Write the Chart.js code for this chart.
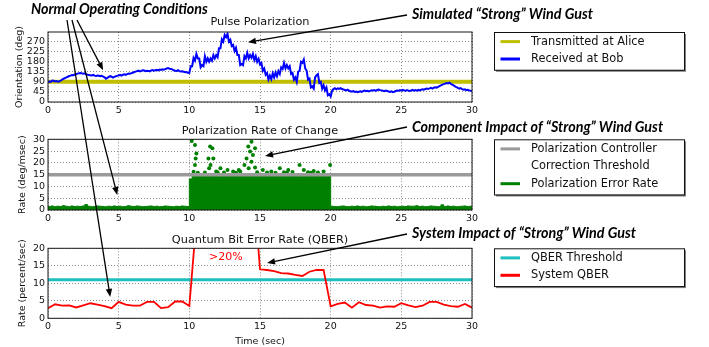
<!DOCTYPE html>
<html>
<head>
<meta charset="utf-8">
<script src="https://cdn.jsdelivr.net/npm/chart.js@4.4.0/dist/chart.umd.min.js"></script>
<style>
  body { margin: 0; background: #fff; }
  #wrap { position: relative; width: 709px; height: 347px; }
  #wrap canvas { position: absolute; left: 0; top: 0; }
</style>
</head>
<body>
<div id="wrap">
  <canvas id="plot_polarization" width="709" height="347"></canvas>
  <canvas id="plot_rate" width="709" height="347"></canvas>
  <canvas id="plot_qber" width="709" height="347"></canvas>
</div>
<script>
// ---- data ----
const timeTicks = [0, 5, 10, 15, 20, 25, 30];
const orientationTicks = [0, 45, 90, 135, 180, 225, 270];
const rateTicks = [0, 5, 10, 15, 20, 25, 30];
const qberTicks = [0, 5, 10, 15, 20];

// Bob's received orientation, one sample every 0.1 s from 0 to 30 s
const bobStep = 0.1;
const bobOrientation = [
  88, 92, 90, 96, 95, 92, 94, 91, 93, 96,
  100, 104, 107, 110, 113, 116, 118, 121, 120, 123,
  125, 127, 129, 130, 128, 126, 128, 124, 122, 121,
  120, 119, 121, 118, 116, 118, 117, 115, 117, 114,
  110, 104, 108, 112, 116, 113, 109, 112, 115, 117,
  119, 121, 118, 122, 124, 121, 125, 127, 126, 129,
  131, 134, 136, 138, 140, 137, 139, 142, 141, 138,
  140, 139, 137, 141, 143, 140, 142, 144, 141, 145,
  143, 146, 144, 147, 150, 152, 149, 148, 146, 142,
  140, 139, 142, 138, 136, 137, 135, 133, 134, 131,
  130,
  160, 160, 197, 185, 215, 195, 195, 155, 165, 160,
  205, 180, 195, 180, 195, 185, 210, 195, 210, 200,
  240, 240, 280, 270, 300, 290, 305, 270, 278, 250,
  255, 228, 242, 210, 210, 165, 170, 165, 205, 195,
  220, 195, 210, 198, 215, 188, 205, 180, 193, 168,
  175, 140, 150, 122, 130, 100, 118, 102, 128, 110,
  132, 115, 138, 125, 155, 148, 175, 150, 165, 150,
  160, 125, 130, 100, 110, 90, 135, 140, 180, 175,
  190, 150, 140, 100, 105, 65, 70, 60, 110, 120,
  125, 85, 90, 60, 75, 52, 65, 30, 35, 25,
  50, 58, 62, 57, 61, 59, 62, 58, 56,
  54, 52, 55, 50, 48, 46, 49, 45, 47, 44,
  46, 48, 45, 49, 51, 48, 50, 47, 50, 52,
  51, 53, 50, 54, 56, 53, 52, 50, 48, 51,
  49, 47, 45, 48, 44, 46, 49, 51, 50, 53,
  51, 54, 52, 50, 53, 51, 49, 52, 54, 51,
  53, 51, 54, 52, 55, 57, 55, 58, 60, 58,
  61, 63, 60, 64, 66, 64, 68, 71, 74, 78,
  80, 82, 85, 83, 86, 81, 78, 74, 70, 66,
  63, 60, 62, 58, 55, 57, 53, 55, 52, 50,
  49
];
const aliceTime = [0, 30];
const aliceOrientation = [90, 90];

// polarization error rate, one value every 0.2 s
const rateStep = 0.2;
const errorRate = [
  1.5, 1.7, 1.4, 1.6, 1.5, 1.8, 1.6, 1.4, 1.7, 1.5,
  1.6, 1.5, 1.7, 2.3, 1.6, 1.4, 1.5, 1.7, 1.6, 1.5,
  1.4, 1.6, 1.5, 1.7, 1.5, 1.6, 1.4, 1.5, 1.8, 1.6,
  1.5, 1.7, 1.6, 1.4, 1.5, 1.6, 1.7, 1.5, 1.6, 1.4,
  1.5, 1.7, 1.6, 1.5, 1.4, 1.6, 1.5, 1.7, 1.6, 1.5,
  13.2, 14.6, 14.4, 14.7, 14.3, 14.5, 14.8, 14.2, 14.6, 14.4,
  14.7, 14.3, 14.5, 14.6, 14.2, 14.8, 14.4, 14.5, 14.3, 14.7,
  14.4, 14.6, 14.2, 14.5, 14.8, 14.3, 14.6, 14.4, 14.7, 14.2,
  14.5, 14.6, 14.3, 14.7, 14.4, 14.5, 14.2, 14.6, 14.8, 14.3,
  14.5, 14.4, 14.7, 14.2, 14.6, 14.5, 14.3, 14.7, 14.4, 14.6,
  1.6, 1.5, 1.4, 1.6, 1.7, 1.5, 1.4, 1.6, 1.5, 1.7,
  1.5, 1.6, 1.4, 1.5, 1.7, 1.6, 1.5, 1.4, 1.6, 1.5,
  1.7, 1.5, 1.6, 1.4, 1.5, 1.6, 1.5, 1.7, 1.6, 1.6,
  1.8, 1.5, 1.6, 1.4, 1.5, 1.7, 1.6, 1.5, 1.4, 2.2,
  1.5, 1.7, 1.5, 1.6, 1.4, 1.5, 1.6, 1.7, 1.5, 1.6,
  1.5
];
const spikeTime = [10.17, 10.4, 10.5, 10.45, 10.4, 10.3, 10.6, 11.47, 11.63, 11.35, 11.7, 11.5, 11.4,
  11.9, 12.2, 12.7, 12.45, 13.1, 13.5, 13.3, 13.6, 13.9, 14.05, 14.17, 14.3, 14.4, 14.5, 14.4,
  14.65, 14.2, 14.65, 14.8, 15.2, 15.5, 15.8, 16.1, 16.4, 16.7, 17.0, 17.3, 17.8, 18.1, 18.4,
  18.8, 19.1, 19.5, 19.96, 11.1, 12.0, 16.9, 18.6];
const spikeRate = [29.3, 27.6, 24.0, 21.9, 19.1, 16.2, 15.8, 26.9, 26.2, 21.9, 21.9, 19.1, 17.7,
  16.3, 17.7, 17.0, 15.9, 16.3, 17.0, 15.8, 16.3, 19.1, 21.9, 26.9, 24.8, 29.0, 23.3, 20.5,
  26.2, 17.7, 18.0, 16.0, 17.0, 15.9, 16.3, 15.8, 17.7, 16.0, 17.0, 16.1, 19.1, 17.0, 16.0,
  16.5, 15.9, 16.3, 19.1, 15.9, 16.0, 15.8, 15.8];
const controllerTime = [0, 30];
const controllerThreshold = [15, 15];

const qberTime = [0, 0.5, 1, 1.5, 2, 2.5, 3, 3.5, 4, 4.5, 5, 5.5, 6, 6.5, 7, 7.5, 8, 8.5, 9, 9.5,
  10, 10.5, 11, 11.5, 12, 12.5, 13, 13.5, 14, 14.5,
  15, 15.5, 16, 16.5, 17, 17.5, 18, 18.5, 19, 19.5,
  20, 20.5, 21, 21.5, 22, 22.5, 23, 23.5, 24, 24.5, 25, 25.5, 26, 26.5, 27, 27.5, 28, 28.5, 29, 29.5, 30];
const qberValue = [2.9, 4.0, 3.6, 3.7, 3.1, 3.7, 4.3, 3.9, 3.5, 2.9, 4.7, 3.9, 3.6, 3.6, 4.7, 4.7, 2.9, 3.2, 4.8, 4.8,
  3.5, 28, 32, 35, 38, 40, 42, 40, 41, 40,
  14.0, 13.8, 13.5, 12.9, 12.8, 12.4, 12.1, 13.3, 13.8, 13.8,
  3.4, 4.1, 4.5, 3.05, 4.6, 3.8, 3.6, 3.05, 3.4, 3.3, 4.3, 3.7, 3.2, 3.6, 4.7, 4.7, 3.9, 3.5, 3.3, 4.1, 3.05];
const qberThresholdTime = [0, 30];
const qberThreshold = [11, 11];

// ---- annotations (text in page pixels, arrow tips in data units) ----
const notes = [
  { text: 'Normal Operating Conditions', x: 31, y: 9 },
  { text: 'Simulated \u201cStrong\u201d Wind Gust', x: 412, y: 14 },
  { text: 'Component Impact of \u201cStrong\u201d Wind Gust', x: 412, y: 127 },
  { text: 'System Impact of \u201cStrong\u201d Wind Gust', x: 412, y: 233 }
];
const arrows = [
  { from: [77, 20], plot: 0, at: [3.9, 142] },
  { from: [72, 20], plot: 1, at: [4.9, 6.4] },
  { from: [67, 20], plot: 2, at: [4.4, 6.1] },
  { from: [407, 15], plot: 0, at: [14.15, 267] },
  { from: [407, 127], plot: 1, at: [15.36, 22.9] },
  { from: [407, 234], plot: 2, at: [15.5, 15.8] }
];

function createData(xValues, yValues) {
  return xValues.map((x, i) => ({ x: x, y: yValues[i] }));
}
function sampled(values, step) {
  return values.map((v, i) => ({ x: +(i * step).toFixed(2), y: v }));
}

Chart.defaults.font.family = '"DejaVu Sans", sans-serif';
Chart.defaults.color = '#111';

const gridColor = '#8a8a8a';

function xAxis(height, title) {
  return {
    type: 'linear', min: 0, max: 30,
    afterBuildTicks: s => { s.ticks = timeTicks.map(v => ({ value: v })); },
    ticks: { padding: 3, autoSkip: false, maxRotation: 0, font: { size: 9.5 } },
    grid: { color: gridColor, drawTicks: false },
    border: { display: false, dash: [1, 2] },
    title: { display: !!title, text: title, font: { size: 9.5 }, padding: 0 },
    afterFit: s => { s.height = height; }
  };
}
function yAxis(max, ticks, title, titlePad) {
  return {
    min: 0, max: max,
    afterBuildTicks: s => { s.ticks = ticks.map(v => ({ value: v })); },
    ticks: { padding: 3, autoSkip: false, font: { size: 9.5 } },
    grid: { color: gridColor, drawTicks: false },
    border: { display: false, dash: [1, 2] },
    title: { display: true, text: title, font: { size: 9.5 }, padding: { top: titlePad, bottom: 0 } },
    afterFit: s => { s.width = 48; }
  };
}
function plotTitle(text, padTop, padBottom) {
  return { display: true, text: text, fullSize: false, color: '#111',
    font: { size: 11.3, weight: 'normal' }, padding: { top: padTop, bottom: padBottom } };
}

const frame = {
  id: 'frame',
  afterDatasetsDraw(chart) {
    const { ctx, chartArea: a } = chart;
    ctx.save();
    ctx.strokeStyle = '#1a1a1a';
    ctx.lineWidth = 1;
    ctx.strokeRect(a.left, a.top, a.right - a.left, a.bottom - a.top);
    ctx.restore();
  }
};

const boxLegend = {
  id: 'boxLegend',
  afterDraw(chart) {
    const { ctx, chartArea: a } = chart;
    const rows = [];
    chart.data.datasets.forEach(ds => {
      if (!ds.label) return;
      ds.label.split('\n').forEach((t, i) => rows.push({ t: t, color: i === 0 ? ds.borderColor : null }));
    });
    const left = a.right + 22, top = a.top, w = 190, h = rows.length * 17.4 + 3;
    ctx.save();
    ctx.fillStyle = '#808080';
    ctx.fillRect(left + 2, top + 2, w, h);
    ctx.fillStyle = '#fff';
    ctx.fillRect(left, top, w, h);
    ctx.strokeStyle = '#111';
    ctx.lineWidth = 1;
    ctx.strokeRect(left + 0.5, top + 0.5, w, h);
    ctx.font = '11.4px "DejaVu Sans", sans-serif';
    ctx.textBaseline = 'middle';
    rows.forEach((r, i) => {
      const y = top + 9.6 + i * 17.4;
      if (r.color) {
        ctx.strokeStyle = r.color;
        ctx.lineWidth = 3;
        ctx.beginPath();
        ctx.moveTo(left + 6.5, y);
        ctx.lineTo(left + 26, y);
        ctx.stroke();
      }
      ctx.fillStyle = '#111';
      ctx.fillText(r.t, left + 37, y);
    });
    ctx.restore();
  }
};

const charts = [];

function drawArrow(ctx, x0, y0, x1, y1) {
  const ang = Math.atan2(y1 - y0, x1 - x0), L = 8, W = 3.2;
  const bx = x1 - L * Math.cos(ang), by = y1 - L * Math.sin(ang);
  ctx.beginPath();
  ctx.moveTo(x0, y0);
  ctx.lineTo(bx, by);
  ctx.stroke();
  ctx.beginPath();
  ctx.moveTo(x1, y1);
  ctx.lineTo(bx + W * Math.sin(ang), by - W * Math.cos(ang));
  ctx.lineTo(bx - W * Math.sin(ang), by + W * Math.cos(ang));
  ctx.closePath();
  ctx.fill();
}

const notesOverlay = {
  id: 'notesOverlay',
  afterDraw(chart) {
    const ctx = chart.ctx;
    const plots = [charts[0], charts[1], chart];
    ctx.save();
    // >20% label inside the QBER panel
    ctx.fillStyle = '#ff0000';
    ctx.font = '11px "DejaVu Sans", sans-serif';
    ctx.textBaseline = 'middle';
    ctx.fillText('>20%', chart.scales.x.getPixelForValue(11.4), chart.scales.y.getPixelForValue(17.5));

    ctx.fillStyle = '#000';
    ctx.font = 'italic bold 14.3px Lato, "Open Sans", sans-serif';
    notes.forEach(n => ctx.fillText(n.text, n.x, n.y));
    ctx.strokeStyle = '#000';
    ctx.lineWidth = 1.3;
    arrows.forEach(a => {
      const p = plots[a.plot];
      if (!p) return;
      drawArrow(ctx, a.from[0], a.from[1], p.scales.x.getPixelForValue(a.at[0]), p.scales.y.getPixelForValue(a.at[1]));
    });
    ctx.restore();
  }
};

const common = {
  responsive: false,
  animation: false,
  events: [],
};

charts.push(new Chart(document.getElementById('plot_polarization'), {
  type: 'line',
  data: {
    datasets: [
      { label: 'Transmitted at Alice', data: createData(aliceTime, aliceOrientation),
        borderColor: '#bfbf00', borderWidth: 4, pointRadius: 0, order: 1 },
      { label: 'Received at Bob', data: sampled(bobOrientation, bobStep),
        borderColor: '#0000ff', borderWidth: 2, pointRadius: 0, order: 0 }
    ]
  },
  options: Object.assign({}, common, {
    layout: { padding: { top: 0, left: 0, right: 237, bottom: 225 } },
    scales: { x: xAxis(20), y: yAxis(313, orientationTicks, 'Orientation (deg)', 14) },
    plugins: { legend: { display: false }, tooltip: { enabled: false },
      title: plotTitle('Pulse Polarization', 15.2, 3.24) }
  }),
  plugins: [frame, boxLegend]
}));

charts.push(new Chart(document.getElementById('plot_rate'), {
  type: 'line',
  data: {
    datasets: [
      { label: 'Polarization Controller\nCorrection Threshold', data: createData(controllerTime, controllerThreshold),
        borderColor: '#9a9a9a', borderWidth: 3.5, pointRadius: 0, order: 0 },
      { label: 'Polarization Error Rate', data: sampled(errorRate, rateStep),
        borderColor: '#008000', backgroundColor: '#008000', borderWidth: 1, stepped: 'before',
        fill: 'origin', pointRadius: 0, order: 2 },
      { data: createData(spikeTime, spikeRate), showLine: false,
        borderColor: '#008000', backgroundColor: '#008000', pointRadius: 2, pointBorderWidth: 0, order: 1 }
    ]
  },
  options: Object.assign({}, common, {
    layout: { padding: { top: 0, left: 0, right: 237, bottom: 117 } },
    scales: { x: xAxis(20), y: yAxis(30, rateTicks, 'Rate (deg/msec)', 17) },
    plugins: { legend: { display: false }, tooltip: { enabled: false },
      title: plotTitle('Polarization Rate of Change', 124.2, 1.54) }
  }),
  plugins: [frame, boxLegend]
}));

new Chart(document.getElementById('plot_qber'), {
  type: 'line',
  data: {
    datasets: [
      { label: 'QBER Threshold', data: createData(qberThresholdTime, qberThreshold),
        borderColor: '#1fbfbf', borderWidth: 3, pointRadius: 0, order: 1 },
      { label: 'System QBER', data: createData(qberTime, qberValue),
        borderColor: '#ff0000', borderWidth: 1.8, pointRadius: 0, order: 0, clip: 0 }
    ]
  },
  options: Object.assign({}, common, {
    layout: { padding: { top: 0, left: 0, right: 237, bottom: 0 } },
    scales: { x: xAxis(28.7, 'Time (sec)'), y: yAxis(20, qberTicks, 'Rate (percent/sec)', 17) },
    plugins: { legend: { display: false }, tooltip: { enabled: false },
      title: plotTitle('Quantum Bit Error Rate (QBER)', 233.2, 1.54) }
  }),
  plugins: [frame, boxLegend, notesOverlay]
});
</script>
</body>
</html>
